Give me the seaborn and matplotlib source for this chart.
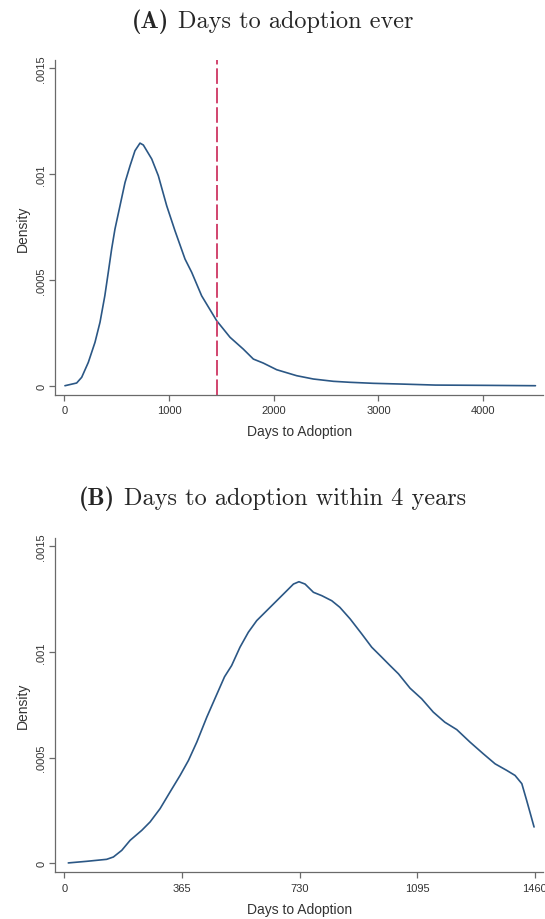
import numpy as np
import pandas as pd
import matplotlib
matplotlib.use("Agg")
import matplotlib.pyplot as plt
import seaborn as sns

# ---- Data ----
ever_days = [5, 117, 165, 228, 292, 340, 386, 419, 451, 483, 531, 579, 627, 674,
             722, 754, 834, 897, 977, 1056, 1152, 1216, 1311, 1455, 1582, 1709,
             1805, 1900, 2028, 2219, 2378, 2569, 2728, 2951, 3206, 3544, 4043, 4500]
ever_density = [0.0, 0.0000128, 0.0000397, 0.00011, 0.000205, 0.0003, 0.000425,
                0.000536, 0.000646, 0.000741, 0.000851, 0.000961, 0.00104,
                0.001111, 0.001147, 0.001138, 0.001072, 0.000993, 0.000851,
                0.000733, 0.000599, 0.000536, 0.000425, 0.000307, 0.000229,
                0.000173, 0.000126, 0.000107, 0.0000756, 0.0000473, 0.0000317,
                0.0000208, 0.0000161, 0.0000113, 0.000008, 0.000003, 0.0000016, 0.0]

within_days = [12, 69, 131, 152, 178, 204, 240, 266, 297, 328, 359, 385, 411, 442,
               467, 497, 519, 545, 571, 597, 628, 659, 690, 711, 728, 747, 773, 799,
               830, 855, 887, 923, 954, 985, 1011, 1037, 1073, 1109, 1145, 1181,
               1218, 1259, 1300, 1337, 1373, 1399, 1420, 1435, 1448, 1458]
within_density = [0.0000019, 0.0000095, 0.0000189, 0.00003, 0.0000615, 0.000109,
                  0.000156, 0.000196, 0.000259, 0.000338, 0.000416, 0.000487,
                  0.000574, 0.000692, 0.000779, 0.000883, 0.000936, 0.001023,
                  0.001094, 0.001149, 0.001196, 0.001243, 0.00129, 0.001322,
                  0.001333, 0.001322, 0.001283, 0.001267, 0.001243, 0.001212,
                  0.001157, 0.001086, 0.001023, 0.000976, 0.000936, 0.000897,
                  0.000829, 0.000779, 0.000716, 0.000668, 0.000633, 0.000574,
                  0.000519, 0.000471, 0.00044, 0.000416, 0.000377, 0.000298,
                  0.000227, 0.000172]

cutoff_days = 1460
ever_xticks = [0, 1000, 2000, 3000, 4000]
within_xticks = [0, 365, 730, 1095, 1460]
yticks = [0, 0.0005, 0.001, 0.0015]
ytick_labels = ["0", ".0005", ".001", ".0015"]
panel_tags = ["(A)", "(B)"]
panel_titles = ["Days to adoption ever", "Days to adoption within 4 years"]

# ---- Style ----
sns.set_theme(style="ticks")
plt.rcParams["font.family"] = ["Liberation Sans", "DejaVu Sans"]

line_color = "#2b5785"
vline_color = "#d1446e"
axis_color = "#6a6a6a"
text_color = "#333333"

W, H = 545, 920
fig = plt.figure(figsize=(W / 100, H / 100), dpi=100)
fig.patch.set_facecolor("white")

def px_axes(left, right, top, bottom):
    return fig.add_axes([left / W, 1 - bottom / H, (right - left) / W, (bottom - top) / H])

ax1 = px_axes(55, 543.4, 61, 395.7)
ax2 = px_axes(55, 543.4, 539, 873.3)

df1 = pd.DataFrame({"days": ever_days, "density": ever_density})
df2 = pd.DataFrame({"days": within_days, "density": within_density})

sns.lineplot(data=df1, x="days", y="density", ax=ax1, color=line_color, lw=1.2)
ax1.axvline(cutoff_days, color=vline_color, lw=1.4, dashes=(8, 2))
sns.lineplot(data=df2, x="days", y="density", ax=ax2, color=line_color, lw=1.2)

ax1.set_xlim(-90, 4576)
ax2.set_xlim(-29.3, 1487)
for ax, xt in ((ax1, ever_xticks), (ax2, within_xticks)):
    ax.set_ylim(-0.0000425, 0.00154)
    ax.set_xticks(xt)
    ax.set_xticklabels([str(v) for v in xt])
    ax.set_yticks(yticks)
    ax.set_yticklabels(ytick_labels, rotation=90, va="center")
    ax.set_xlabel("Days to Adoption", fontsize=10, color=text_color, labelpad=6.5)
    ax.set_ylabel("Density", fontsize=10, color=text_color, labelpad=4.5)
    ax.tick_params(axis="both", labelsize=8, colors=axis_color, labelcolor=text_color,
                   length=4, width=0.9, direction="out")
    ax.tick_params(axis="x", pad=3.5)
    ax.tick_params(axis="y", pad=2.2)
    for s in ("top", "right"):
        ax.spines[s].set_visible(False)
    for s in ("left", "bottom"):
        ax.spines[s].set_color(axis_color)
        ax.spines[s].set_linewidth(0.9)
    ax.set_facecolor("white")

# ---- Titles: bold tag + roman text, centred on the figure ----
renderer = fig.canvas.get_renderer()
def panel_title(tag, text, baseline_px, size=17.5):
    y = 1 - baseline_px / H
    t1 = fig.text(0, y, tag, family="cmb10", fontsize=size, va="baseline", ha="left")
    t2 = fig.text(0, y, text, family="cmr10", fontsize=size, va="baseline", ha="left")
    w1 = t1.get_window_extent(renderer).width
    w2 = t2.get_window_extent(renderer).width
    gap = size * 100 / 72 * 0.36
    total = w1 + gap + w2
    x0 = (W - total) / 2
    t1.set_x(x0 / W)
    t2.set_x((x0 + w1 + gap) / W)

panel_title(panel_tags[0], panel_titles[0], 28)
panel_title(panel_tags[1], panel_titles[1], 505)

fig.savefig("out.png", dpi=100, facecolor="white")
